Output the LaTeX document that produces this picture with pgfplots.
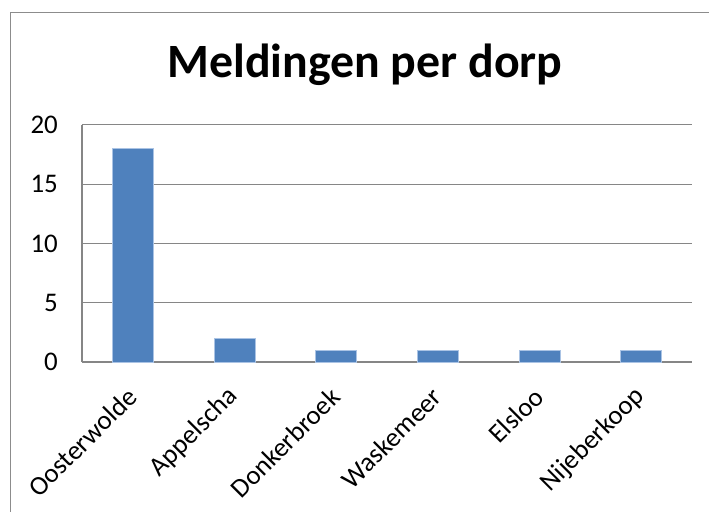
\documentclass[border=0pt]{standalone}
\usepackage{fontspec}
\setmainfont{Carlito}
\usepackage{pgfplots}
\pgfplotsset{compat=1.18}
\definecolor{barblue}{RGB}{79,129,189}
\definecolor{baredge}{RGB}{170,195,228}
\definecolor{axgray}{RGB}{134,134,134}
\definecolor{bordergray}{RGB}{140,140,140}
\begin{document}
\begin{tikzpicture}[x=1bp,y=1bp]
\path[use as bounding box] (0,0) rectangle (709,512);
\draw[bordergray, line width=1.5bp] (10.5,-5) -- (10.5,499.5) -- (720,499.5);
\node[anchor=base, font=\fontsize{48}{55}\selectfont\bfseries] at (365,434) {Meldingen per dorp};
\begin{axis}[
  at={(82bp,150bp)}, anchor=south west,
  scale only axis, width=610bp, height=237bp,
  xmin=-0.5, xmax=5.5, ymin=0, ymax=20,
  axis x line=bottom, axis y line=left,
  axis line style={axgray, line width=1.2bp, -},
  ytick={0,5,10,15,20},
  xtick={0,1,2,3,4,5},
  xticklabels={Oosterwolde,Appelscha,Donkerbroek,Waskemeer,Elsloo,Nijeberkoop},
  major tick length=0pt,
  ymajorgrids, grid style={axgray, line width=1bp},
  /pgf/number format/assume math mode=true,
  tick label style={font=\fontsize{27}{30}\selectfont},
  yticklabel style={anchor=east, inner sep=0pt, xshift=-24bp},
  xticklabel style={rotate=45, anchor=east, inner sep=0pt, xshift=-22bp, yshift=-21bp},
  clip=false,
]
\addplot[ybar, bar width=41bp, fill=barblue, draw=baredge, line width=0.6bp]
  coordinates {(0,18) (1,2) (2,1) (3,1) (4,1) (5,1)};
\end{axis}
\end{tikzpicture}
\end{document}
